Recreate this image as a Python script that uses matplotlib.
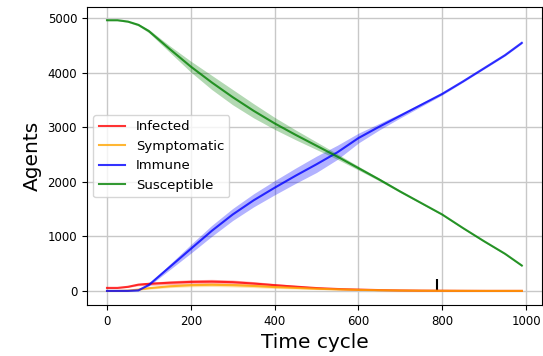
import numpy as np
import matplotlib.pyplot as plt

# Mean agent counts per time cycle (averaged over runs) and their spread
time_cycle = [0, 25, 50, 75, 100, 150, 200, 250, 300, 350, 400, 450, 500,
              550, 600, 650, 700, 750, 800, 850, 900, 950, 990]

infected = [55, 55, 75, 115, 130, 150, 165, 170, 160, 135, 105, 78, 52,
            35, 24, 15, 9, 5, 3, 1, 0, 0, 0]
infected_std = [8, 8, 12, 20, 28, 35, 40, 42, 40, 36, 30, 24, 18,
                13, 9, 6, 4, 2, 1, 1, 0, 0, 0]

symptomatic = [0, 0, 5, 25, 50, 85, 105, 112, 105, 90, 70, 55, 40,
               28, 19, 12, 7, 4, 2, 1, 0, 0, 0]
symptomatic_std = [0, 0, 4, 10, 18, 25, 30, 32, 32, 30, 26, 21, 16,
                   12, 8, 6, 4, 2, 1, 1, 0, 0, 0]

immune = [0, 0, 0, 10, 110, 440, 770, 1100, 1400, 1660, 1890, 2110, 2320,
          2540, 2800, 3010, 3210, 3410, 3610, 3840, 4080, 4320, 4545]
immune_std = [0, 0, 0, 5, 20, 50, 80, 100, 110, 120, 130, 140, 150,
              130, 90, 60, 40, 30, 20, 15, 15, 15, 15]

susceptible = [4960, 4960, 4935, 4875, 4760, 4430, 4110, 3820, 3550, 3300, 3070, 2860, 2660,
               2460, 2250, 2040, 1820, 1610, 1400, 1150, 910, 680, 465]
susceptible_std = [10, 10, 15, 20, 30, 60, 100, 130, 140, 130, 110, 90, 70,
                   50, 35, 25, 20, 15, 15, 15, 15, 15, 15]

# cycle at which the infection dies out
end_cycle = 787

series = [
    ('Infected', infected, infected_std, 'red'),
    ('Symptomatic', symptomatic, symptomatic_std, 'orange'),
    ('Immune', immune, immune_std, 'blue'),
    ('Susceptible', susceptible, susceptible_std, 'green'),
]

fig = plt.figure(figsize=(5.43, 3.56), dpi=100)
ax = fig.add_axes([0.160, 0.143, 0.838, 0.837])

ax.vlines(end_cycle, 0, 210, color='black', lw=1.5)

t = np.array(time_cycle)
for name, mean, std, color in series:
    mean = np.array(mean)
    std = np.array(std)
    ax.plot(t, mean, color=color, alpha=0.8, lw=1.5, label=name)
    ax.fill_between(t, mean - std, mean + std, color=color, alpha=0.3, lw=0)

ax.set_xlim(-48, 1038)
ax.set_ylim(-260, 5200)
ax.set_xticks([0, 200, 400, 600, 800, 1000])
ax.set_yticks([0, 1000, 2000, 3000, 4000, 5000])
ax.tick_params(labelsize=8.5)
ax.grid(True, color='#c8c8c8', lw=1)
ax.set_axisbelow(True)

ax.set_xlabel('Time cycle', fontsize=14.5)
ax.set_ylabel('Agents', fontsize=14.5)
ax.legend(loc='center left', fontsize=9.5)

fig.savefig('out.png', dpi=100)
